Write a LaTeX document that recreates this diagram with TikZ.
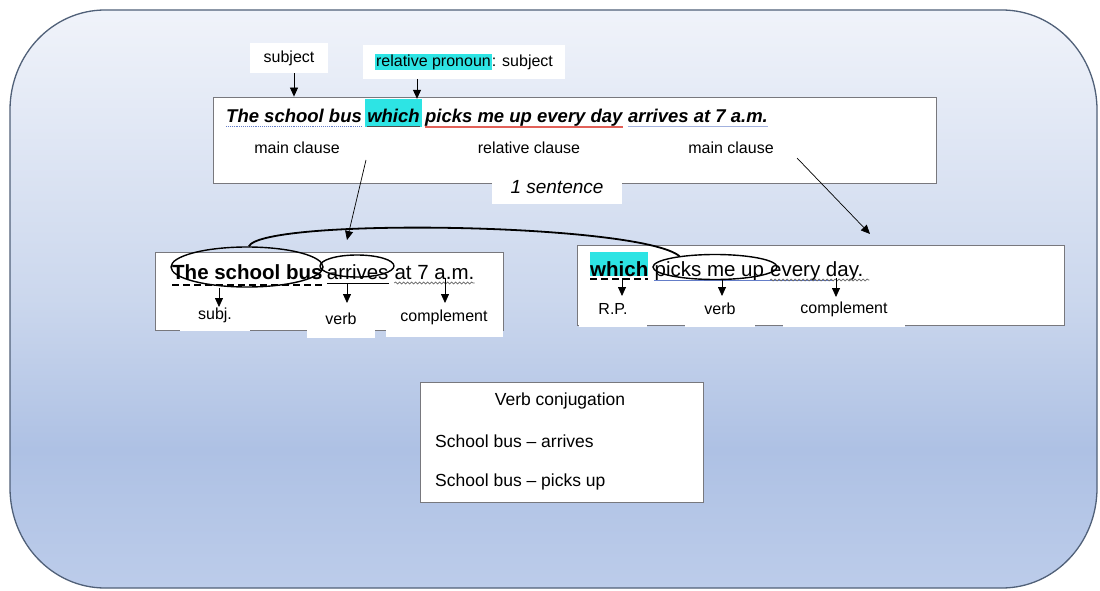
\documentclass[tikz,border=0pt]{standalone}
\usepackage{fontspec}
\setmainfont{Liberation Sans}
\usetikzlibrary{arrows.meta,decorations.pathmorphing,shapes.geometric}
\definecolor{ptop}{RGB}{240,243,250}
\definecolor{pmid1}{RGB}{203,215,237}
\definecolor{pmid2}{RGB}{174,193,228}
\definecolor{pbot}{RGB}{188,204,234}
\definecolor{rim}{RGB}{80,96,120}
\definecolor{frame}{RGB}{120,120,125}
\definecolor{hl}{RGB}{45,228,228}
\definecolor{redline}{RGB}{226,96,88}
\definecolor{blueline}{RGB}{100,125,200}
\pgfdeclareverticalshading{panelfill}{100bp}{color(0bp)=(pbot); color(25bp)=(pbot); color(37bp)=(pmid2); color(50bp)=(pmid1); color(75bp)=(ptop); color(100bp)=(ptop)}

\begin{document}
\begin{tikzpicture}[x=1pt,y=-1pt,
  lab/.style={font=\fontsize{16}{18}\selectfont, inner sep=0pt},
  msent/.style={font=\fontsize{18.5}{22}\selectfont\bfseries\itshape, inner sep=0pt, anchor=base west},
  bsent/.style={font=\fontsize{20.5}{24}\selectfont, inner sep=0pt, anchor=base west},
  panel/.style={fill=white, draw=frame, line width=0.8pt},
  tab/.style={lab, fill=white},
  tip/.style={-{Triangle[length=9pt,width=8pt]}, line width=0.8pt},
  ring/.style={draw=black, line width=1.4pt, ellipse, inner sep=0pt},
  squig/.style={decorate, decoration={snake, amplitude=1pt, segment length=4pt}},
  conjtext/.style={font=\fontsize{17.5}{20}\selectfont, inner sep=0pt},
]
\useasboundingbox (0,0) rectangle (1100,591);

% background panel with elliptical corners
\draw[shade, shading=panelfill, draw=rim, line width=1.3pt]
  (105,10) -- (1002,10)
  arc[start angle=-90, end angle=0, x radius=95, y radius=100] -- (1097,488)
  arc[start angle=0, end angle=90, x radius=95, y radius=100] -- (105,588)
  arc[start angle=90, end angle=180, x radius=95, y radius=100] -- (10,110)
  arc[start angle=180, end angle=270, x radius=95, y radius=100] -- cycle;

% ---------- the full sentence ----------
\node[panel, minimum width=723, minimum height=86] (mainbox) at (574.5,140) {};
\node[tab, minimum width=78, minimum height=30] (subjtag) at (289,58) {subject};
\node[tab, minimum width=202, minimum height=34] (reltag) at (464,62)
  {\setlength\fboxsep{1pt}\colorbox{hl}{relative pronoun}: subject};

\node[msent] (m1) at (226,123) {The school bus};
\node[msent, fill=hl, text height=24pt, text depth=4pt, inner xsep=2pt] (m2)
  at ([xshift=3pt]m1.base east) {which};
\node[msent] (m3) at ([xshift=3pt]m2.base east) {picks me up every day};
\node[msent] (m4) at ([xshift=5.1pt]m3.base east) {arrives at 7 a.m.};

\draw[blueline, line width=0.9pt, densely dotted] ([yshift=-3pt]m1.base west) -- ([yshift=-3pt]m1.base east);
\draw[black!70, line width=0.8pt] ([yshift=-3pt,xshift=2pt]m2.base west) -- ([yshift=-3pt,xshift=-2pt]m2.base east);
\draw[redline, line width=1.6pt] ([yshift=-4pt]m3.base west) -- ([yshift=-4pt]m3.base east);
\draw[blueline!60, line width=0.9pt] ([yshift=-3pt]m4.base west) -- ([yshift=-3pt]m4.base east);

\node[lab] (mc1) at (297,148) {main clause};
\node[lab] (rc) at (529,148) {relative clause};
\node[lab] (mc2) at (731,148) {main clause};
\node[font=\fontsize{19}{22}\selectfont\itshape, fill=white, inner sep=0pt,
      minimum width=130, minimum height=33] (onesent) at (557,187) {1 sentence};

\coordinate (subjfoot) at ([xshift=5pt]subjtag.south);
\draw[tip] (subjfoot) -- (subjfoot |- mainbox.north);
\coordinate (relfoot) at (417,79);
\draw[tip] (relfoot) -- (relfoot |- m2.north);

% ---------- main clause ----------
\node[panel, minimum width=348, minimum height=78] (lbox) at (329,291) {};
\node[tab, minimum width=70, minimum height=31] (lsubj) at (215,315.5) {subj.};
\node[tab, minimum width=68, minimum height=38] (lverb) at (341,319) {verb};
\node[tab, minimum width=117, minimum height=39] (lcomp) at (444,317.5) {complement};

\node[bsent, font=\fontsize{20.5}{24}\selectfont\bfseries] (ls1) at (172,279) {The school bus};
\node[bsent] (ls2) at ([xshift=4pt]ls1.base east) {arrives};
\node[bsent] (ls3) at ([xshift=5.7pt]ls2.base east) {at 7 a.m.};
\draw[line width=1.3pt, dash pattern=on 7pt off 4pt] ([yshift=-6pt]ls1.base west) -- ([yshift=-6pt]ls1.base east);
\draw[line width=0.9pt] ([yshift=-4pt]ls2.base west) -- ([yshift=-4pt]ls2.base east);
\draw[squig, black!60, line width=0.7pt] ([yshift=-4pt]ls3.base west) -- ([yshift=-4pt]ls3.base east);

\node[ring, minimum width=152, minimum height=40] (e1) at (247,267) {};
\node[ring, minimum width=74, minimum height=22] (e2) at (357,266) {};

\coordinate (la1) at (219,288);
\coordinate (la2) at (347,283);
\coordinate (la3) at (445,278);
\draw[tip] (la1) -- ++(0,19);
\draw[tip] (la2) -- ++(0,20);
\draw[tip] (la3) -- ++(0,25);

% ---------- relative clause ----------
\node[panel, minimum width=487, minimum height=80] (rbox) at (820.5,285) {};
\node[tab, minimum width=68, minimum height=35] (rrp) at (613,309) {R.P.};
\node[tab, minimum width=70, minimum height=35] (rverb) at (720,309) {verb};
\node[tab, minimum width=122, minimum height=35] (rcomp) at (844,309) {complement};

\node[bsent, font=\fontsize{20.5}{24}\selectfont\bfseries, fill=hl, text height=24pt, text depth=0pt] (rs1) at (590,276) {which};
\node[bsent] (rs2) at ([xshift=6pt]rs1.base east) {picks me up};
\node[bsent] (rs3) at ([xshift=5.7pt]rs2.base east) {every day.};
\draw[line width=1.3pt, dash pattern=on 7pt off 4pt] ([yshift=-3pt]rs1.base west) -- ([yshift=-3pt]rs1.base east);
\draw[blueline, line width=0.9pt] ([yshift=-4pt]rs2.base west) -- ([yshift=-4pt,xshift=-30pt]rs3.base east);
\draw[squig, black!60, line width=0.7pt] ([yshift=-4pt]rs3.base west) -- ([yshift=-4pt,xshift=6pt]rs3.base east);

\node[ring, minimum width=124, minimum height=25] (e3) at (715,267) {};

\coordinate (ra1) at (622,278);
\coordinate (ra2) at (722,279);
\coordinate (ra3) at (836,278);
\draw[tip] (ra1) -- ++(0,18);
\draw[tip] (ra2) -- ++(0,17);
\draw[tip] (ra3) -- ++(0,19);

% ---------- connectors ----------
\draw[line width=1.8pt] (e1.85) .. controls +(15,-29) and +(-40,-33) .. (e3.163);
\coordinate (mcLstart) at (366,160);
\coordinate (mcLend) at (347,240);
\coordinate (mcRstart) at (797,158);
\coordinate (mcRend) at (870,234);
\draw[tip, line width=0.7pt] (mcLstart) -- (mcLend);
\draw[tip, line width=0.7pt] (mcRstart) -- (mcRend);

% ---------- conjugation note ----------
\node[panel, minimum width=283, minimum height=120] (conj) at (561.5,442) {};
\node[conjtext] (conjhead) at (560,401) {Verb conjugation};
\node[conjtext, anchor=west] (conj1) at (435,441) {School bus – arrives};
\node[conjtext, anchor=west] (conj2) at (435,482) {School bus – picks up};
\end{tikzpicture}
\end{document}
